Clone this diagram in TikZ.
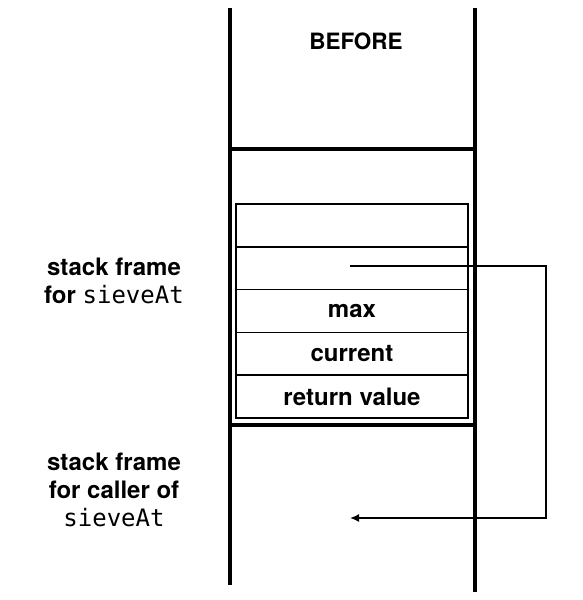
\documentclass[tikz,border=0pt]{standalone}
\usepackage{fontspec}
\setmainfont{TeX Gyre Heros}
\setmonofont{DejaVu Sans Mono}
\usetikzlibrary{arrows.meta,positioning}

\begin{document}
\begin{tikzpicture}[x=1pt,y=-1pt,
    wall/.style={line width=4pt},
    slot/.style={draw,line width=1.6pt,minimum width=232pt,minimum height=42.8pt,
        inner sep=0pt,outer sep=0pt,font=\bfseries\fontsize{24}{28}\selectfont},
    side/.style={align=center,font=\bfseries\fontsize{24}{28}\selectfont}]
                \useasboundingbox (0,0) rectangle (583,600);
                % stack walls
                \draw[wall] (230,8) -- (230,585);
                \draw[wall] (475,8) -- (475,592);
                \draw[wall] (230,149) -- (475,149);
                \draw[wall] (230,425) -- (475,425);

                \node[font=\bfseries\fontsize{22.5}{26}\selectfont] (title) at (356,41) {BEFORE};

                % frame of sieveAt
                \node[slot,anchor=north west] (s1) at (236,204) {};
                \node[slot,below=0pt of s1] (s2) {};
                \node[slot,below=0pt of s2] (s3) {max};
                \node[slot,below=0pt of s3] (s4) {current};
                \node[slot,below=0pt of s4] (s5) {return value};

                \node[side] (frameA) at (114,281) {stack frame\\for {\mdseries\ttfamily\fontsize{24}{28}\selectfont sieveAt}};
                \node[side] (frameB) at (114,490) {stack frame\\for caller of\\{\mdseries\ttfamily\fontsize{24}{28}\selectfont sieveAt}};

                \coordinate (ptr) at (350,266);
                \coordinate (dest) at (350,518);
                \draw[line width=1.6pt,-{Latex[length=9pt,width=8pt]}] (ptr) -- (546,266) |- (dest);

\end{tikzpicture}
\end{document}
